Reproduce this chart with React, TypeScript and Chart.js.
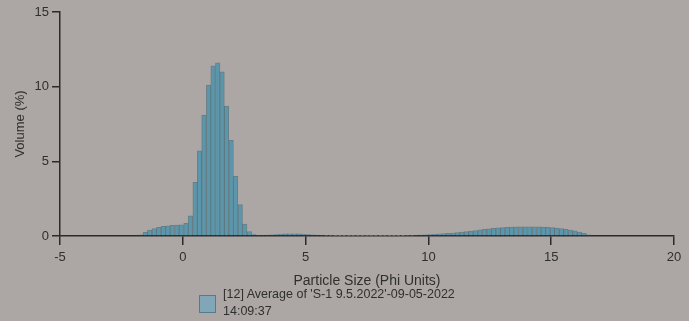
import React, { useEffect, useRef } from "react";
import { Chart, registerables } from "chart.js";

Chart.register(...registerables);

// Bin centres (phi units) of the size classes
const phiCenters = [
  -1.72, -1.53, -1.35, -1.16, -0.98, -0.79, -0.61, -0.43, -0.24, -0.06,
  0.13, 0.31, 0.5, 0.68, 0.86, 1.05, 1.23, 1.42, 1.6, 1.78,
  1.97, 2.15, 2.34, 2.52, 2.71, 2.89, 3.07, 3.26, 3.44, 3.63,
  3.81, 3.99, 4.18, 4.36, 4.55, 4.73, 4.91, 5.1, 5.28, 5.47,
  5.65, 5.84, 6.02, 6.21, 6.39, 6.57, 6.76, 6.94, 7.13, 7.31,
  7.5, 7.68, 7.86, 8.05, 8.23, 8.42, 8.6, 8.78, 8.97, 9.15,
  9.34, 9.52, 9.71, 9.89, 10.07, 10.26, 10.44, 10.63, 10.81, 11.0,
  11.18, 11.36, 11.55, 11.73, 11.92, 12.1, 12.29, 12.47, 12.65, 12.84,
  13.02, 13.21, 13.39, 13.57, 13.76, 13.94, 14.13, 14.31, 14.5, 14.68,
  14.86, 15.05, 15.23, 15.42, 15.6, 15.79, 15.97, 16.15, 16.34, 16.52,
];

// Volume (%) per class
const volumes = [
  0.08, 0.25, 0.4, 0.5, 0.58, 0.64, 0.68, 0.71, 0.73, 0.75,
  0.85, 1.35, 3.6, 5.7, 8.1, 10.1, 11.4, 11.6, 11.0, 8.7,
  6.4, 4.0, 2.1, 0.8, 0.3, 0.1, 0.05, 0.05, 0.06, 0.08,
  0.1, 0.12, 0.14, 0.15, 0.15, 0.14, 0.12, 0.1, 0.08, 0.06,
  0.05, 0.04, 0.04, 0.03, 0.03, 0.03, 0.03, 0.03, 0.03, 0.03,
  0.03, 0.03, 0.03, 0.03, 0.03, 0.03, 0.03, 0.03, 0.03, 0.04,
  0.04, 0.05, 0.06, 0.08, 0.1, 0.12, 0.14, 0.16, 0.18, 0.2,
  0.23, 0.26, 0.29, 0.33, 0.37, 0.41, 0.45, 0.48, 0.51, 0.54,
  0.56, 0.58, 0.6, 0.61, 0.62, 0.62, 0.62, 0.62, 0.61, 0.6,
  0.58, 0.56, 0.53, 0.49, 0.45, 0.4, 0.34, 0.27, 0.18, 0.08,
];

const xTicks = [-5, 0, 5, 10, 15, 20];
const yTicks = [0, 5, 10, 15];
const xTitle = "Particle Size (Phi Units)";
const yTitle = "Volume (%)";
const seriesLabel = "[12] Average of 'S-1 9.5.2022'-09-05-2022";
const seriesLabel2 = "14:09:37";

const FONT = "'Liberation Sans', Arial, sans-serif";
const INK = "#2a2a2a";
const TEXT = "#2f2f2f";

export default function App() {
  const ref = useRef<HTMLCanvasElement>(null);

  useEffect(() => {
    document.body.style.margin = "0";
    const chart = new Chart(ref.current as HTMLCanvasElement, {
      type: "bar",
      data: {
        datasets: [
          {
            label: seriesLabel,
            data: phiCenters.map((x, i) => ({ x, y: volumes[i] })),
            backgroundColor: "#5a97ad",
            borderColor: "rgba(50,95,112,0.55)",
            borderWidth: 1,
            borderSkipped: "bottom",
            categoryPercentage: 1,
            barPercentage: 1,
          },
        ],
      },
      options: {
        responsive: false,
        maintainAspectRatio: false,
        animation: false,
        layout: { padding: { top: 12, right: 15, left: 0, bottom: 0 } },
        plugins: { legend: { display: false }, tooltip: { enabled: false } },
        scales: {
          x: {
            type: "linear",
            min: -5,
            max: 20,
            offset: false,
            afterBuildTicks: (s: any) => {
              s.ticks = xTicks.map((v) => ({ value: v }));
            },
            afterFit: (s: any) => {
              s.height = 85;
              s.paddingLeft = 0;
              s.paddingRight = 0;
            },
            grid: {
              offset: false,
              drawOnChartArea: false,
              drawTicks: true,
              tickLength: 9,
              color: INK,
              lineWidth: 1.5,
            },
            border: { display: true, color: INK, width: 1.5 },
            ticks: {
              padding: 5,
              color: TEXT,
              font: { family: FONT, size: 13 },
              maxRotation: 0,
              autoSkip: false,
            },
            title: {
              display: true,
              text: xTitle,
              color: TEXT,
              font: { family: FONT, size: 14 },
              padding: { top: 0, bottom: 31.6 },
            },
          },
          y: {
            type: "linear",
            min: 0,
            max: 15,
            afterBuildTicks: (s: any) => {
              s.ticks = yTicks.map((v) => ({ value: v }));
            },
            afterFit: (s: any) => {
              s.width = 60;
              s.paddingTop = 0;
              s.paddingBottom = 0;
            },
            grid: {
              drawOnChartArea: false,
              drawTicks: true,
              tickLength: 8,
              color: INK,
              lineWidth: 1.5,
            },
            border: { display: true, color: INK, width: 1.5 },
            ticks: {
              padding: 3,
              color: TEXT,
              font: { family: FONT, size: 13 },
            },
            title: {
              display: true,
              text: yTitle,
              color: TEXT,
              font: { family: FONT, size: 13 },
              padding: { top: 13, bottom: 0 },
            },
          },
        },
      },
    } as any);
    return () => chart.destroy();
  }, []);

  return (
    <div
      style={{
        position: "relative",
        width: 689,
        height: 321,
        background: "#aca7a4",
        fontFamily: FONT,
        overflow: "hidden",
      }}
    >
      <canvas ref={ref} width={689} height={321} style={{ display: "block" }} />
      <div
        style={{
          position: "absolute",
          left: 199,
          top: 295,
          width: 15,
          height: 16,
          background: "#80a6b8",
          border: "1px solid #557c8d",
        }}
      />
      <div
        style={{
          position: "absolute",
          left: 223,
          top: 286,
          fontSize: 12.5,
          lineHeight: "17px",
          color: TEXT,
          whiteSpace: "nowrap",
        }}
      >
        <div>{seriesLabel}</div>
        <div>{seriesLabel2}</div>
      </div>
    </div>
  );
}
